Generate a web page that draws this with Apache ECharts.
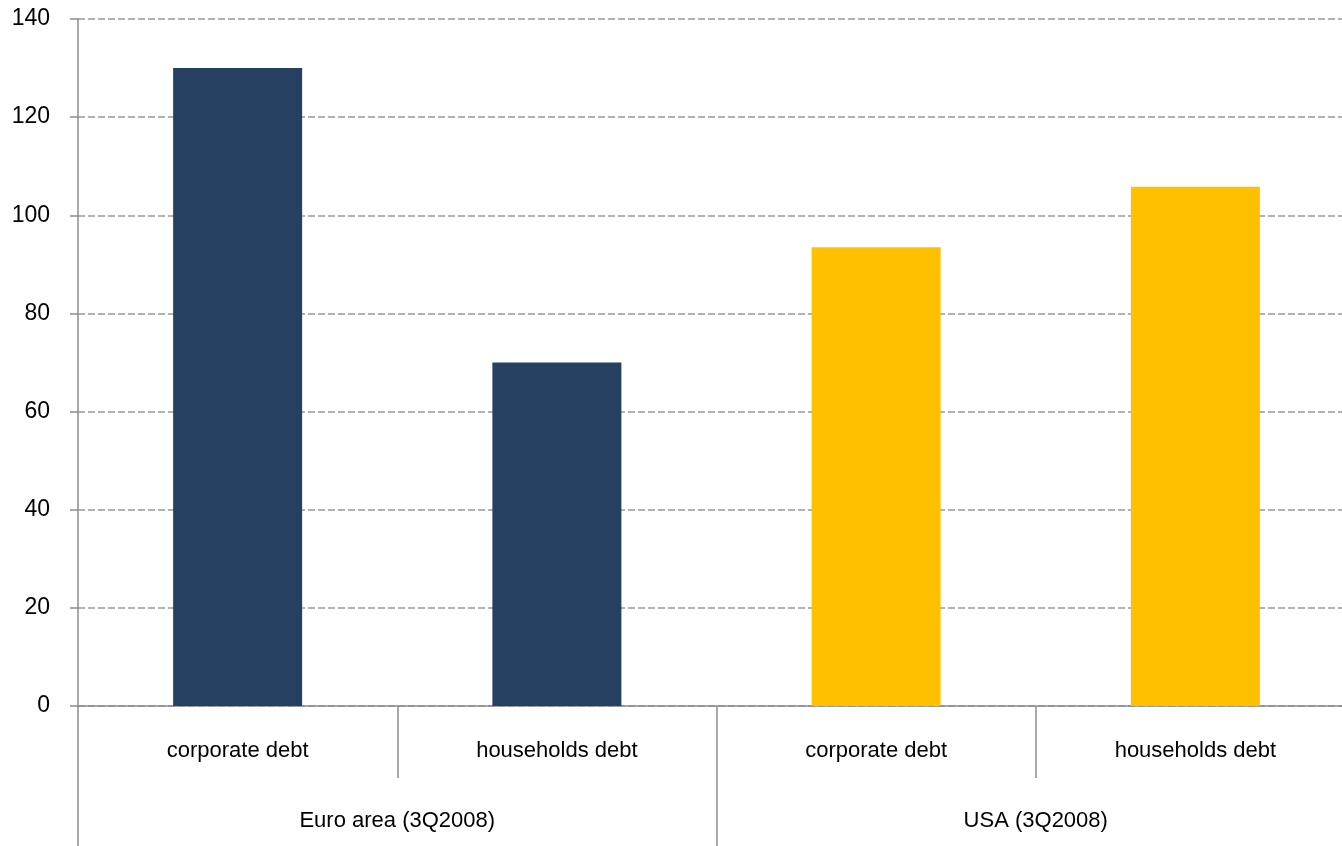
<!DOCTYPE html>
<html>
<head>
<meta charset="utf-8">
<script src="https://cdn.jsdelivr.net/npm/echarts@6/dist/echarts.min.js"></script>
<style>
  html, body { margin: 0; padding: 0; background: #fff; overflow: hidden; }
  /* a bit wider than the window: the plot runs past the right edge, like the original */
  #chart { width: 1355px; height: 846px; }
</style>
</head>
<body>
<div id="chart"></div>
<script>
// debt levels, % of GDP
const categories = ['corporate debt', 'households debt', 'corporate debt', 'households debt']
const groups = ['Euro area (3Q2008)', 'USA (3Q2008)']
const euroValues = [130, 70, '-', '-']
const usaValues = ['-', '-', 93.5, 105.8]
const yTicks = { min: 0, max: 140, interval: 20 }

const chart = echarts.init(document.getElementById('chart'))
const font = 'Liberation Sans, Arial, sans-serif'
const axisGray = '#8c8c8c'

chart.setOption({
  animation: false,
  grid: { left: 78, right: 0, top: 19, bottom: 140, containLabel: false },
  xAxis: [
    {
      type: 'category',
      data: categories,
      position: 'bottom',
      axisLine: { lineStyle: { color: axisGray, width: 1.5 } },
      axisTick: { show: true, length: 72, lineStyle: { color: axisGray, width: 1.5 } },
      axisLabel: { color: '#000', fontSize: 22, fontFamily: font, margin: 34, interval: 0 },
      splitLine: { show: false }
    },
    {
      type: 'category',
      data: groups,
      position: 'bottom',
      axisLine: { show: false },
      axisTick: { show: true, length: 140, lineStyle: { color: axisGray, width: 1.5 } },
      axisLabel: { color: '#000', fontSize: 22, fontFamily: font, margin: 104, interval: 0 },
      splitLine: { show: false }
    }
  ],
  yAxis: {
    type: 'value',
    min: yTicks.min,
    max: yTicks.max,
    interval: yTicks.interval,
    axisLine: { show: true, lineStyle: { color: axisGray, width: 1.5 } },
    axisTick: { show: true, length: 8, lineStyle: { color: axisGray, width: 1.5 } },
    axisLabel: { color: '#000', fontSize: 23, fontFamily: font, margin: 28 },
    splitLine: { show: true, lineStyle: { color: '#999', type: [7, 3], width: 1.5 } }
  },
  series: [
    {
      name: 'Euro area',
      type: 'bar',
      xAxisIndex: 0,
      data: euroValues,
      barWidth: 129,
      barGap: '-100%',
      itemStyle: { color: '#264061' }
    },
    {
      name: 'USA',
      type: 'bar',
      xAxisIndex: 0,
      data: usaValues,
      barWidth: 129,
      barGap: '-100%',
      itemStyle: { color: '#FFC000' }
    }
  ]
})
</script>
</body>
</html>
